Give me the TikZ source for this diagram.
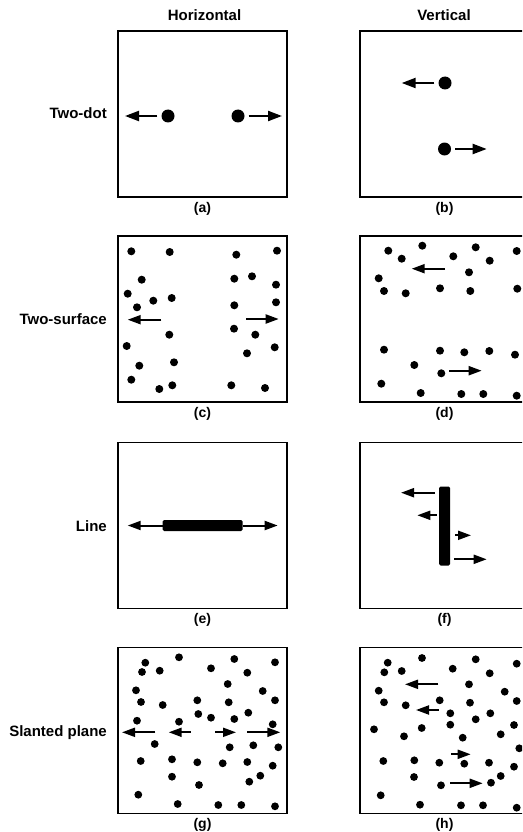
\documentclass[tikz,border=0pt]{standalone}
\usepackage{fontspec}
\setmainfont{Liberation Sans}
\usetikzlibrary{arrows.meta,positioning}

\begin{document}
\begin{tikzpicture}[x=1pt,y=-1pt,
  panel/.style={draw,line width=1.6pt,minimum width=169pt,minimum height=166pt,inner sep=0pt},
  bigdot/.style={circle,fill,inner sep=0pt,minimum size=13pt},
  bar/.style={fill,inner sep=0pt,rounded corners=1.5pt},
  arrow/.style={-{Triangle[length=13pt,width=9pt]},line width=2pt},
  bigarrow/.style={-{Triangle[length=14pt,width=10pt]},line width=2.2pt,shorten <=4pt},
  colhead/.style={font=\fontsize{15}{18}\selectfont\bfseries,anchor=base,inner sep=0pt},
  rowlbl/.style={font=\fontsize{15}{18}\selectfont\bfseries,anchor=base east,inner sep=0pt},
  capt/.style={font=\fontsize{14}{17}\selectfont\bfseries,inner sep=0pt}
]
\clip (0,0) rectangle (522,832);

% column and row titles
\node[colhead] (hor) at (204.5,20.7) {Horizontal};
\node[colhead] (ver) at (444,20.7) {Vertical};
\node[rowlbl] (twodot) at (107,118.3) {Two-dot};
\node[rowlbl] (twosurf) at (107,324) {Two-surface};
\node[rowlbl] (line) at (107,531.5) {Line};
\node[rowlbl] (slant) at (107,736.7) {Slanted plane};

% panels
\node[panel] (pa) at (202.5,114) {};
\node[panel] (pb) at (444.5,114) {};
\node[panel] (pc) at (202.5,319) {};
\node[panel] (pd) at (444.5,319) {};
\node[panel] (pe) at (202.5,525.5) {};
\node[panel] (pf) at (444.5,525.5) {};
\node[panel] (pg) at (202.5,730.5) {};
\node[panel] (ph) at (444.5,730.5) {};
\node[capt,below=4pt of pa] {(a)};
\node[capt,below=4pt of pb] {(b)};
\node[capt,below=4pt of pc] {(c)};
\node[capt,below=4pt of pd] {(d)};
\node[capt,below=4pt of pe] {(e)};
\node[capt,below=4pt of pf] {(f)};
\node[capt,below=4pt of pg] {(g)};
\node[capt,below=4pt of ph] {(h)};

% (a) and (b): two dots
\node[bigdot] (a1) at (168,116) {};
\node[bigdot] (a2) at (238,116) {};
\node[bigdot] (b1) at (445,83) {};
\node[bigdot] (b2) at (444.5,149) {};
\draw[bigarrow] (a1) -- (125,116);
\draw[bigarrow] (a2) -- (282,116);
\draw[bigarrow] (b1) -- (401.7,83);
\draw[bigarrow] (b2) -- (486.7,149);

% (c) two surfaces, horizontal
\foreach \x/\y in {131.3/251.3, 169.7/252, 236.3/254.7, 277/250.7, 141.7/279.7,
  234.3/278.7, 252/276.3, 276/284.7, 127.7/293.7, 153.3/300.7, 171.7/298,
  137/307.3, 234.3/305.3, 276/302.3, 169.3/334.7, 234/328.7, 255.3/334.7,
  274.7/347.3, 126.7/346, 247/353.3, 174/362.3, 139.3/365.7, 131.3/379.7,
  159.3/389, 172.3/385.3, 231.3/385.3, 265/388}
  \fill (\x,\y) circle (4);
\draw[arrow] (161.3,319.7) -- (127.7,319.7);
\draw[arrow] (246.3,319) -- (278.7,319);

% (d) two surfaces, vertical
\foreach \x/\y in {388.3/250.7, 401.7/258.7, 422.3/245.7, 453.3/256.3, 475.7/247.3,
  489.7/260.7, 516.7/251, 378.7/278.3, 469/272.3, 384/291, 405.7/293.3,
  440/288.3, 470.3/291, 517.3/288.7, 384/349.7, 440/350.7, 464.3/352.3,
  489.3/351, 515/354.7, 414.3/365, 441.3/373.3, 381.3/383.7, 420.7/393,
  461.3/394, 483.3/394, 516.7/395.7}
  \fill (\x,\y) circle (4);
\draw[arrow] (445,268.7) -- (411.7,268.7);
\draw[arrow] (449,370.7) -- (481.7,370.7);

% (e) and (f): line
\node[bar,minimum width=80pt,minimum height=11pt] (ebar) at (202.7,525.5) {};
\draw[arrow] (ebar.west) -- (127.7,525.5);
\draw[arrow] (ebar.east) -- (277.7,525.5);
\node[bar,minimum width=11pt,minimum height=79pt] (fbar) at (444.5,526) {};
\draw[arrow] (435,492.7) -- (401,492.7);
\draw[arrow] (436.7,515.3) -- (417.3,515.3);
\draw[arrow] (455,535.3) -- (471,535.3);
\draw[arrow] (454.3,559.3) -- (486.7,559.3);

% (g) slanted plane, horizontal
\foreach \x/\y in {145.3/662.7, 142/672, 159.7/670.7, 179/657.3, 211/668.3,
  234.3/659, 247.3/672.7, 275/662.3, 136/690.3, 227.7/684, 262.7/691,
  141/702, 162.7/705, 197.3/700.3, 228.7/702.3, 275/700.3, 198.3/714,
  211/717.7, 234.3/719, 248.3/712.7, 137/720.7, 179/721.7, 272.7/724.3,
  154.7/744, 229.7/747.3, 253.3/745.3, 278.3/747.3, 140.7/761, 172/759.3,
  197.3/762.3, 222.7/763.3, 247.3/762, 272.7/765.7, 172/776.7, 199/785,
  260.3/775.7, 249.3/781.7, 138.3/794.7, 177.7/804, 218.3/805, 241.3/805,
  275/806.3}
  \fill (\x,\y) circle (3.9);
\draw[arrow] (155.3,732.3) -- (122,732.3);
\draw[arrow] (190.7,732.3) -- (168.7,732.3);
\draw[arrow] (215.3,732.3) -- (236,732.3);
\draw[arrow] (247,732.3) -- (280.3,732.3);

% (h) slanted plane, vertical
\foreach \x/\y in {387.7/662.7, 384.3/672.3, 401.7/671, 422/658, 452.7/668.7,
  475.7/659.3, 489.7/673.3, 516.7/663.7, 378.7/690.7, 469/684.3, 504.7/691.7,
  384/702.3, 405.7/705.3, 439.7/700.3, 470/702.7, 516.7/701, 450.3/713.3,
  475.7/719.3, 490.3/713.3, 450.3/724.7, 374/729.3, 404/736.3, 421.7/728,
  462.7/737.7, 500.7/734.3, 514/725, 519.3/748.3, 383.3/761, 414.3/760.3,
  439.3/762.7, 464.3/763.7, 489/762.7, 514/766.7, 414/777, 441/785.3,
  500.7/776, 491/782.7, 380.7/795.3, 420/804.7, 461/805.3, 483/805.3,
  516.7/807.7}
  \fill (\x,\y) circle (3.9);
\draw[arrow] (438.3,684.3) -- (405,684.3);
\draw[arrow] (438.7,710) -- (416,710);
\draw[arrow] (451,754.3) -- (470.7,754.3);
\draw[arrow] (450.3,783.3) -- (482.7,783.3);
\end{tikzpicture}
\end{document}
